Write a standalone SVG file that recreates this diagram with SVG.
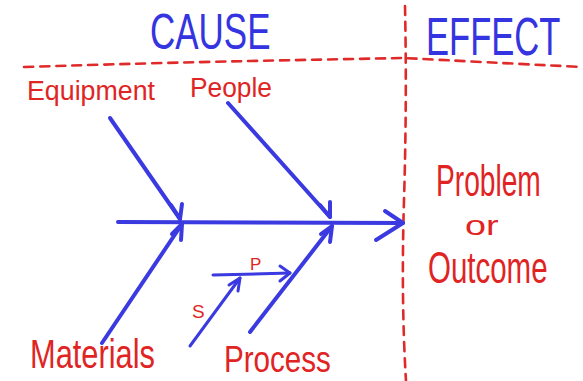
<svg xmlns="http://www.w3.org/2000/svg" width="583" height="381" viewBox="0 0 583 381">
<style>
.bone{fill:none;stroke:#3a3ae0;stroke-width:4;stroke-linecap:round;stroke-linejoin:round}
.sub{fill:none;stroke:#3a3ae0;stroke-width:3;stroke-linecap:round;stroke-linejoin:round}
.dash{fill:none;stroke:#e02a2a;stroke-width:2.6;stroke-dasharray:9 7;stroke-linecap:round}
.red{fill:#e02424;font-family:"Liberation Sans",sans-serif}
.blue{fill:#3434e0;font-family:"Liberation Sans",sans-serif}
</style>
<rect width="583" height="381" fill="#ffffff"/>
<g id="dividers">
<path class="dash" d="M24 67 Q150 63 250 61 T404 58 Q480 62 583 67"/>
<path class="dash" d="M405 6 Q407 100 404 200 T406 381"/>
</g>
<g id="header-cause"><text class="blue" transform="translate(150,49) scale(0.7,1)" font-size="50">CAUSE</text></g>
<g id="header-effect"><text class="blue" transform="translate(426,55) scale(0.64,1)" font-size="54">EFFECT</text></g>
<g id="connectors">
<path class="bone" d="M118 222 L403 223"/>
<path class="bone" d="M385 211 L403 223 L376 240"/>
<path class="bone" d="M110 118 L180 219"/>
<path class="bone" d="M171 205 L180 219 L182 204"/>
<path class="bone" d="M228 103 L330 217"/>
<path class="bone" d="M320 205 L330 217 L330 202"/>
<path class="bone" d="M102 343 L182 224"/>
<path class="bone" d="M172 234 L182 224 L181 240"/>
<path class="bone" d="M250 332 L332 226"/>
<path class="bone" d="M321 234 L332 226 L330 242"/>
<path class="sub" d="M213 275 L290 273"/>
<path class="sub" d="M280 266 L290 273 L280 281"/>
<path class="sub" d="M190 346 L240 278"/>
<path class="sub" d="M229 285 L240 278 L238 291"/>
</g>
<g id="equipment"><text class="red" x="27" y="100" font-size="27" textLength="128" lengthAdjust="spacingAndGlyphs">Equipment</text></g>
<g id="people"><text class="red" x="190" y="97" font-size="27" textLength="82" lengthAdjust="spacingAndGlyphs">People</text></g>
<g id="materials"><text class="red" transform="translate(30,368) scale(0.77,1)" font-size="40">Materials</text></g>
<g id="process"><text class="red" transform="translate(224,372) scale(0.8,1)" font-size="37">Process</text></g>
<g id="sub-p"><text class="red" x="250" y="270" font-size="17">P</text></g>
<g id="sub-s"><text class="red" x="192" y="318" font-size="19">S</text></g>
<g id="effect">
<text class="red" transform="translate(436,196) scale(0.64,1)" font-size="44">Problem</text>
<text class="red" transform="translate(465,235) scale(1.35,1)" font-size="28">or</text>
<text class="red" transform="translate(428,283) scale(0.67,1)" font-size="44">Outcome</text>
</g>
</svg>
